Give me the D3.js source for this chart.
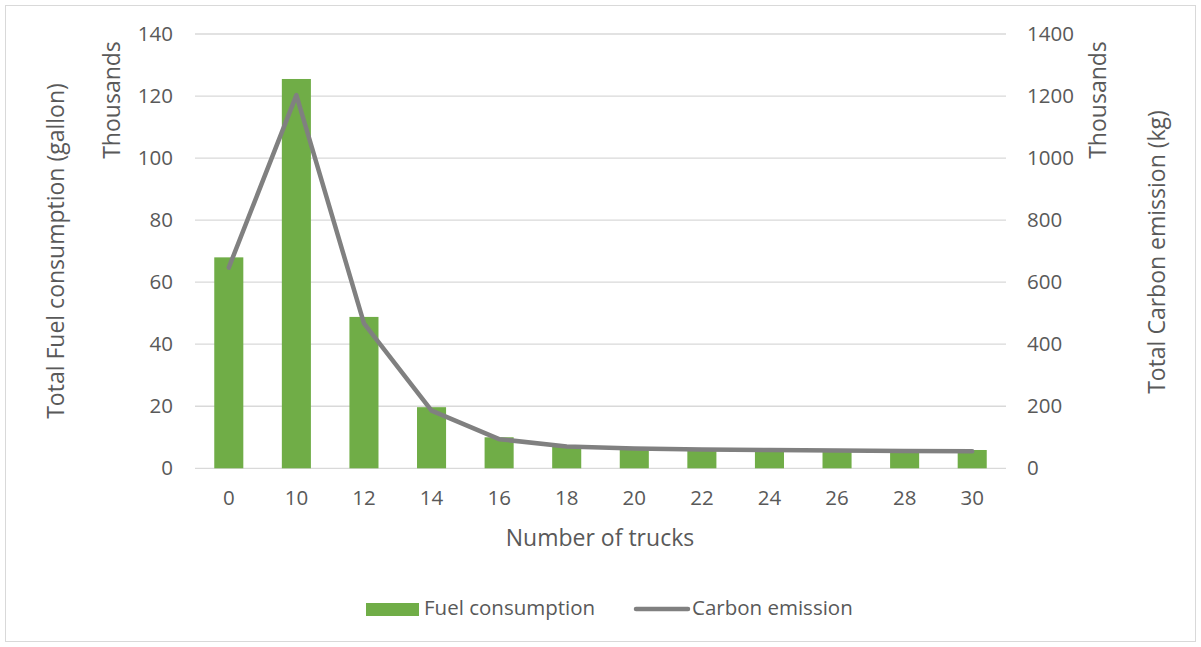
<!DOCTYPE html>
<html><head><meta charset="utf-8">
<script src="https://cdn.jsdelivr.net/npm/d3@7"></script>
<style>body{margin:0;background:#fff}svg{display:block}</style>
</head><body><svg id="c" width="1201" height="647"></svg>
<script>
const categories = ["0","10","12","14","16","18","20","22","24","26","28","30"];
const fuel = [68.0, 125.5, 48.8, 19.7, 10.0, 7.5, 6.6, 6.3, 6.1, 6.0, 5.9, 5.9];
const carbon = [647, 1203, 467, 186, 94, 70, 64, 61, 59, 57, 56, 55];
const leftTicks = [0,20,40,60,80,100,120,140];
const rightTicks = [0,200,400,600,800,1000,1200,1400];

const svg = d3.select("#c");
const font = "'Open Sans', sans-serif";
const txt = "#595959";
const L = 195, R = 1006, T = 34, B = 468.3;

svg.append("rect").attr("x",5.5).attr("y",5.5).attr("width",1190).attr("height",636)
  .attr("fill","#fff").attr("stroke","#d9d9d9");

const x = d3.scaleBand().domain(categories).range([L,R]).paddingInner(0.57).paddingOuter(0.285);
const yL = d3.scaleLinear().domain([0,140]).range([B,T]);
const yR = d3.scaleLinear().domain([0,1400]).range([B,T]);

svg.append("g").selectAll("line").data(leftTicks).join("line")
  .attr("x1",L).attr("x2",R).attr("y1",d=>yL(d)).attr("y2",d=>yL(d))
  .attr("stroke","#d9d9d9").attr("stroke-width",1.3);

svg.append("g").selectAll("rect").data(fuel).join("rect")
  .attr("x",(d,i)=>x(categories[i])).attr("width",x.bandwidth())
  .attr("y",d=>yL(d)).attr("height",d=>yL(0)-yL(d)).attr("fill","#70ad47");

const line = d3.line().x((d,i)=>x(categories[i])+x.bandwidth()/2).y(d=>yR(d));
svg.append("path").datum(carbon).attr("d",line).attr("fill","none")
  .attr("stroke","#808080").attr("stroke-width",4.5).attr("stroke-linecap","round").attr("stroke-linejoin","round");

const axL = d3.axisLeft(yL).tickValues(leftTicks).tickSize(0).tickPadding(22);
const gL = svg.append("g").attr("transform",`translate(${L},0)`).call(axL);
const axR = d3.axisRight(yR).tickValues(rightTicks).tickFormat(d3.format("d")).tickSize(0).tickPadding(21);
const gR = svg.append("g").attr("transform",`translate(${R},0)`).call(axR);
const axB = d3.axisBottom(x).tickSize(0).tickPadding(22);
const gB = svg.append("g").attr("transform",`translate(0,${B})`).call(axB);
[gL,gR,gB].forEach(g=>{
  g.select(".domain").remove();
  g.selectAll("text").attr("fill",txt).style("font-family",font).style("font-size","20.5px");
});

function label(t,xx,yy,rot,size){
  svg.append("text").attr("transform",`translate(${xx},${yy}) rotate(${rot})`)
    .attr("text-anchor","middle").attr("dominant-baseline","middle")
    .attr("fill",txt).style("font-family",font).style("font-size",size+"px").text(t);
}
label("Total Fuel consumption (gallon)",58,251,-90,23);
label("Thousands",114,100,-90,23);
label("Thousands",1100,100,-90,23);
label("Total Carbon emission (kg)",1159,252,-90,23);
label("Number of trucks",600,540,0,23);

const lg = svg.append("g");
lg.append("rect").attr("x",366).attr("y",603).attr("width",53).attr("height",13).attr("fill","#70ad47");
lg.append("text").attr("x",424).attr("y",610).attr("dominant-baseline","middle")
  .attr("fill",txt).style("font-family",font).style("font-size","20.5px").text("Fuel consumption");
lg.append("line").attr("x1",636).attr("x2",688).attr("y1",609).attr("y2",609)
  .attr("stroke","#808080").attr("stroke-width",4.5).attr("stroke-linecap","round");
lg.append("text").attr("x",692).attr("y",610).attr("dominant-baseline","middle")
  .attr("fill",txt).style("font-family",font).style("font-size","20.5px").text("Carbon emission");
</script></body></html>
